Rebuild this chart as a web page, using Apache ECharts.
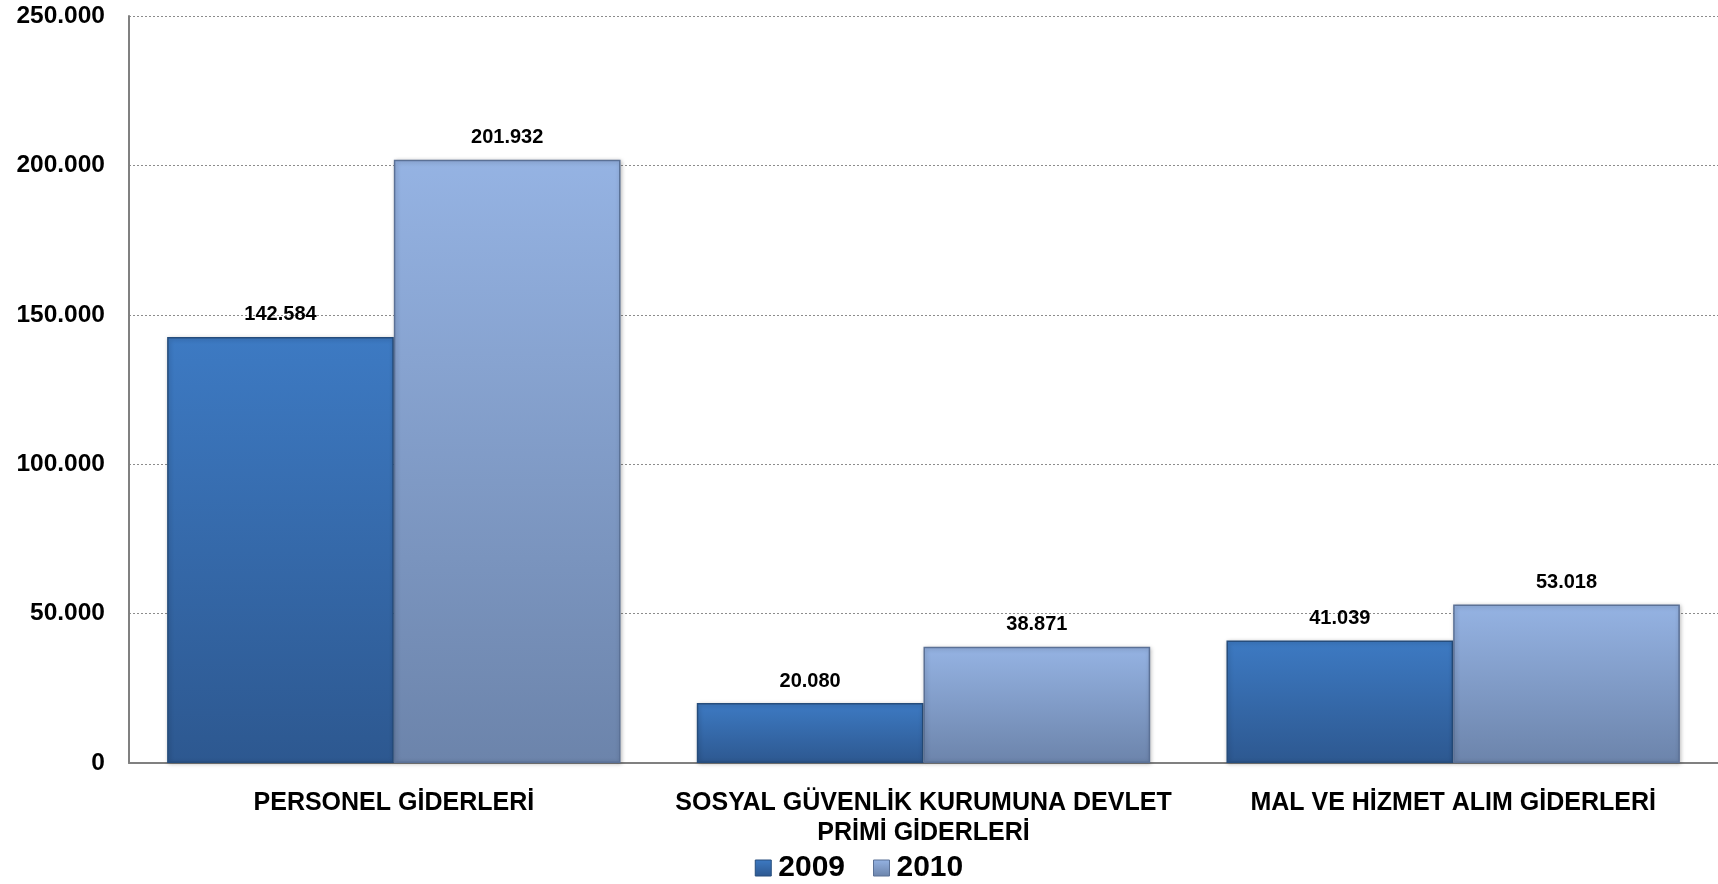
<!DOCTYPE html>
<html><head><meta charset="utf-8">
<script src="https://cdn.jsdelivr.net/npm/echarts@6/dist/echarts.min.js"></script>
<style>html,body{margin:0;padding:0;background:#fff}#c{width:1718px;height:884px}</style>
</head><body><div id="c"></div>
<script>
const categories = ["PERSONEL GİDERLERİ", "SOSYAL GÜVENLİK KURUMUNA DEVLET\nPRİMİ GİDERLERİ", "MAL VE HİZMET ALIM GİDERLERİ"];
const values2009 = [142584, 20080, 41039];
const values2010 = [201932, 38871, 53018];
const seriesNames = ["2009", "2010"];
const yTicks = [0, 50000, 100000, 150000, 200000, 250000];

function fmt(v){ return String(v).replace(/\B(?=(\d{3})+(?!\d))/g, "."); }
const font = "Arial, 'Liberation Sans', sans-serif";

const chart = echarts.init(document.getElementById('c'));
function grad(top, bottom){
  return new echarts.graphic.LinearGradient(0,0,0,1,[{offset:0,color:top},{offset:1,color:bottom}]);
}
const style2009 = {color: grad('#3D7AC3','#2D5890'), borderColor:'#264d7c', borderWidth:1.5, shadowColor:'rgba(0,0,0,0.25)', shadowBlur:4, shadowOffsetX:1, shadowOffsetY:1};
const style2010 = {color: grad('#95B3E3','#6C84AB'), borderColor:'#5b7196', borderWidth:1.5, shadowColor:'rgba(0,0,0,0.25)', shadowBlur:4, shadowOffsetX:1, shadowOffsetY:1};
const labelCfg = {show:true, position:'top', distance:12, fontFamily:font, fontWeight:'bold', fontSize:20, color:'#000', formatter:p=>fmt(p.value)};

chart.setOption({
  animation:false,
  grid:{left:129, top:16, right:0, bottom:121, containLabel:false},
  legend:{
    data:[{name:seriesNames[0], itemStyle:{color:grad('#3D7AC3','#2D5890'), borderColor:'#264d7c', borderWidth:1}},{name:seriesNames[1], itemStyle:{color:grad('#95B3E3','#6C84AB'), borderColor:'#5b7196', borderWidth:1}}],
    top:848, left:'center', icon:'rect', itemWidth:16, itemHeight:16, itemGap:28,
    textStyle:{fontFamily:font, fontWeight:'bold', fontSize:30, color:'#000', padding:[0,0,0,2]}
  },
  xAxis:{
    type:'category', data:categories,
    axisLine:{lineStyle:{color:'#808080', width:2}},
    axisTick:{show:false},
    axisLabel:{interval:0, margin:25, fontFamily:font, fontWeight:'bold', fontSize:25, color:'#000', lineHeight:30, align:'center'}
  },
  yAxis:{
    type:'value', min:0, max:250000, interval:50000,
    axisLine:{show:true, lineStyle:{color:'#808080', width:2}},
    axisTick:{show:false},
    splitLine:{lineStyle:{color:'#8c8c8c', type:[2,2], width:1}},
    axisLabel:{margin:24, fontFamily:font, fontWeight:'bold', fontSize:24.5, color:'#000', formatter:v=>yTicks.includes(v)?fmt(v):''}
  },
  series:[
    {name:seriesNames[0], type:'bar', data:values2009, barGap:'0%', barCategoryGap:'14.4%', itemStyle:style2009, label:labelCfg},
    {name:seriesNames[1], type:'bar', data:values2010, barGap:'0%', barCategoryGap:'14.4%', itemStyle:style2010, label:labelCfg}
  ]
});
</script></body></html>
